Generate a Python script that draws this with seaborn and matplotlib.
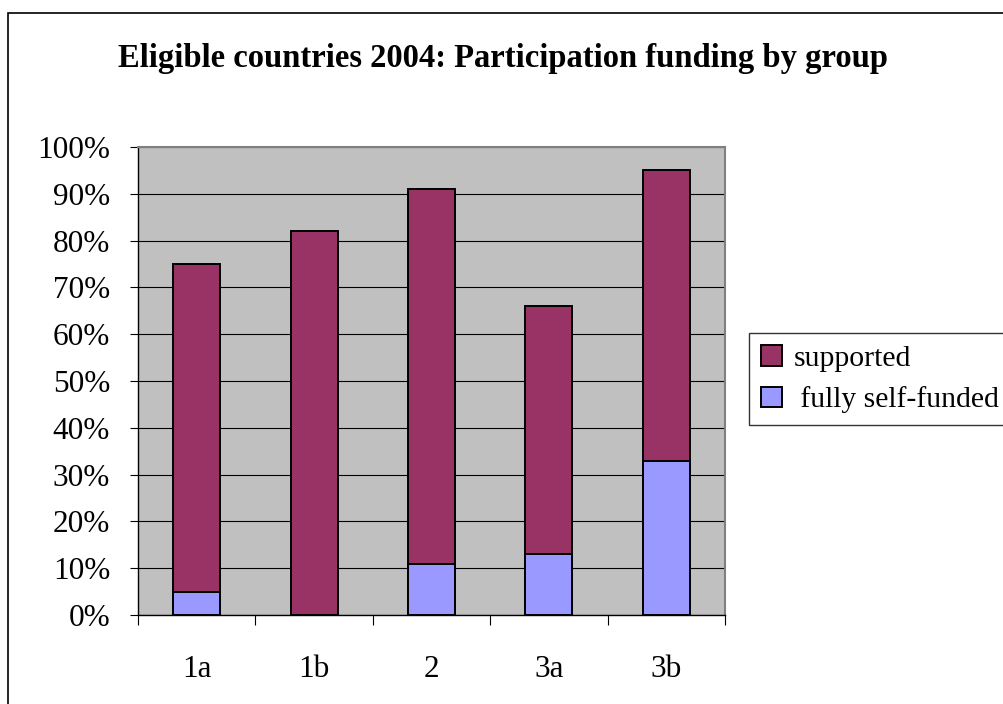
import matplotlib
matplotlib.use("Agg")
import matplotlib.pyplot as plt
import matplotlib.patches as mpatches
from matplotlib.ticker import FuncFormatter, FixedLocator
import seaborn as sns
import pandas as pd

groups = ["1a", "1b", "2", "3a", "3b"]
self_funded = [5, 0, 11, 13, 33]
supported = [70, 82, 80, 53, 62]
series_names = ["supported", " fully self-funded"]
title = "Eligible countries 2004: Participation funding by group"

sns.set_theme(style="white")
plt.rcParams["font.family"] = ["Liberation Serif", "DejaVu Serif"]
plt.rcParams["text.color"] = "black"
plt.rcParams["xtick.color"] = "black"
plt.rcParams["ytick.color"] = "black"

df = pd.DataFrame({"group": groups, "self": self_funded, "supported": supported})
df["total"] = df["self"] + df["supported"]

fig = plt.figure(figsize=(10.04, 7.04), dpi=100)
W, H = 1004, 704
ax = fig.add_axes([138 / W, 1 - 615 / H, (725 - 138) / W, (615 - 147) / H])

c_sup = "#993366"
c_self = "#9999FF"

sns.barplot(data=df, x="group", y="total", color=c_sup, width=0.4,
            edgecolor="black", linewidth=1.4, saturation=1, ax=ax, zorder=3)
sns.barplot(data=df, x="group", y="self", color=c_self, width=0.4,
            edgecolor="black", linewidth=1.4, saturation=1, ax=ax, zorder=4)

ax.set_facecolor("#C0C0C0")
ax.set_xlim(-0.5, len(groups) - 0.5)
ax.set_ylim(0, 100)
ax.set_yticks(range(0, 101, 10))
ax.yaxis.set_major_formatter(FuncFormatter(lambda v, p: f"{int(v)}%"))
ax.grid(axis="y", color="black", linewidth=0.8, zorder=1)
ax.set_axisbelow(True)
ax.set_xlabel("")
ax.set_ylabel("")

# x ticks: boundaries major (no labels), labels at centers as minor
ax.xaxis.set_major_locator(FixedLocator([i - 0.5 for i in range(len(groups) + 1)]))
ax.set_xticklabels([""] * (len(groups) + 1))
ax.xaxis.set_minor_locator(FixedLocator(list(range(len(groups)))))
ax.set_xticklabels(groups, minor=True)
ax.tick_params(axis="x", which="major", direction="out", length=7, width=0.8,
               color="black", bottom=True)
ax.tick_params(axis="x", which="minor", length=0, pad=29, labelsize=22.5,
               bottom=True, labelcolor="black")
ax.tick_params(axis="y", direction="out", length=6, width=0.8, color="black",
               pad=14, labelsize=22.5, left=True, labelcolor="black")

for s in ["left", "bottom"]:
    ax.spines[s].set_color("black")
    ax.spines[s].set_linewidth(1.0)
for s in ["top", "right"]:
    ax.spines[s].set_color("#808080")
    ax.spines[s].set_linewidth(1.5)

fig.text(503 / W, 1 - 58 / H, title, ha="center", va="center",
         fontsize=23.5, fontweight="bold", color="black")

# figure border (extends past the right/bottom edges)
border = mpatches.Rectangle((8 / W, -0.05), 1.2, 1 - 13 / H + 0.05,
                            transform=fig.transFigure, fill=False,
                            edgecolor="black", linewidth=1.2)
fig.patches.append(border)

handles = [mpatches.Patch(facecolor=c_sup, edgecolor="black", linewidth=1.4),
           mpatches.Patch(facecolor=c_self, edgecolor="black", linewidth=1.4)]
leg = fig.legend(handles, series_names, loc="upper left",
                 bbox_to_anchor=(749 / W, 1 - 333 / H), fontsize=21.3,
                 frameon=True, fancybox=False, handlelength=0.7,
                 handleheight=0.7, handletextpad=0.4, labelspacing=0.5,
                 borderpad=0.4, borderaxespad=0)
leg.get_frame().set_edgecolor("black")
leg.get_frame().set_linewidth(1.0)
for t in leg.get_texts():
    t.set_color("black")

fig.savefig("out.png", dpi=100)
